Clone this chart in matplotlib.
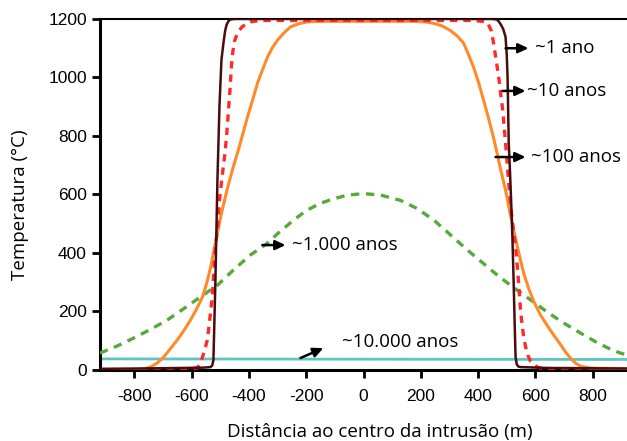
import matplotlib
matplotlib.use("Agg")
import matplotlib.pyplot as plt

plt.rcParams["axes.unicode_minus"] = False

# Curvas de temperatura (x em m, T em °C)
x_1ano = [-920, -800, -629, -560, -534, -528, -524, -517, -510, -503, -496, -489,
          -483, -478, -472, -465, -450, 450, 465, 472, 480, 488, 496, 500, 503,
          507, 511, 514, 517, 520, 524, 528, 531, 535, 540, 548, 643, 920]
t_1ano = [4, 5, 7, 8, 10, 16, 34, 308, 650, 900, 1060, 1118,
          1160, 1180, 1192, 1198, 1200, 1200, 1198, 1192, 1180, 1165, 1138, 1080, 1002,
          776, 690, 615, 537, 450, 308, 150, 44, 20, 12, 10, 7, 5]

x_10anos = [-920, -700, -580, -569, -557, -545, -536, -528, -517, -510, -503, -495,
            -485, -478, -472, -466, -461, -456, -450, -440, -425, -410, -395, -360,
            380, 415, 433, 446, 454, 463, 472, 479, 486, 496, 507, 514, 522, 531,
            538, 543, 548, 553, 559, 566, 574, 583, 595, 607, 630, 664, 920]
t_10anos = [-2, -2, 7, 24, 60, 103, 180, 250, 421, 480, 580, 650,
            730, 800, 880, 960, 1040, 1090, 1125, 1152, 1172, 1183, 1190, 1195,
            1195, 1192, 1188, 1160, 1118, 1060, 1002, 945, 889, 776, 640, 560, 490, 421,
            342, 280, 210, 160, 115, 79, 50, 30, 18, 10, 3, -2, -2]

x_100anos = [-920, -820, -779, -744, -720, -698, -675, -650, -627, -604, -583, -562,
             -548, -534, -522, -510, -495, -475, -456, -437, -420, -405, -388, -370,
             -352, -335, -318, -300, -278, -255, -225, -196, -150, 180, 215, 245, 275,
             304, 327, 349, 366, 384, 402, 419, 435, 450, 465, 479, 496, 510, 524,
             541, 559, 576, 594, 618, 643, 665, 688, 705, 723, 740, 758, 790, 817, 920]
t_100anos = [-2, -2, 0, 10, 24, 44, 72, 103, 135, 171, 208, 250,
             295, 350, 410, 470, 540, 622, 690, 752, 812, 865, 920, 981,
             1028, 1070, 1102, 1128, 1152, 1173, 1184, 1190, 1192, 1192, 1190, 1185, 1176,
             1160, 1142, 1118, 1080, 1036, 982, 923, 866, 810, 748, 684, 615, 545, 479,
             405, 332, 280, 235, 188, 150, 118, 87, 62, 40, 24, 13, 7, 6, 5]

x_1000anos = [-920, -860, -803, -745, -685, -627, -569, -510, -454, -395, -340,
              -290, -243, -200, -150, -105, -55, 0, 60, 129, 185, 245, 300, 363,
              409, 470, 524, 583, 643, 700, 758, 815, 873, 922]
t_1000anos = [58, 82, 109, 138, 171, 210, 250, 290, 342, 393, 430,
              475, 513, 545, 570, 585, 598, 603, 598, 580, 553, 513, 465, 410,
              372, 322, 282, 240, 197, 160, 126, 94, 66, 50]

x_10000anos = [-920, 0, 920]
t_10000anos = [38, 37, 36]

# Rótulos e setas (cauda, cabeça, posição do texto)
rotulos = ["~1 ano", "~10 anos", "~100 anos", "~1.000 anos", "~10.000 anos"]
seta_x0 = [496, 486, 461, -353, -220]
seta_x1 = [576, 566, 566, -272, -140]
seta_y0 = [1100, 954, 728, 427, 41]
seta_y1 = [1100, 954, 728, 427, 75]
texto_x = [600, 572, 586, -250, -75]
texto_y = [1100, 954, 728, 427, 96]

fig = plt.figure(figsize=(6.27, 4.41), dpi=100)
ax = fig.add_axes([0.1595, 0.161, 0.8405, 0.796])

ax.plot(x_10000anos, t_10000anos, color="#5cc6c4", lw=2, zorder=2)
ax.plot(x_1000anos, t_1000anos, color="#56a93a", lw=2.4, ls=(0, (2.5, 2)), zorder=3)
ax.plot(x_100anos, t_100anos, color="#ff8a2a", lw=2.2, zorder=3)
ax.plot(x_10anos, t_10anos, color="#ff2a2a", lw=2.4, ls=(0, (2.2, 1.8)), zorder=4)
ax.plot(x_1ano, t_1ano, color="#4a0c0c", lw=1.8, zorder=5)

for i in range(len(rotulos)):
    ax.annotate("", xy=(seta_x1[i], seta_y1[i]), xytext=(seta_x0[i], seta_y0[i]),
                arrowprops=dict(arrowstyle="-|>,head_length=0.6,head_width=0.28",
                                color="black", lw=1.8, shrinkA=0, shrinkB=0),
                zorder=6)
    ax.text(texto_x[i], texto_y[i], rotulos[i], fontsize=13.5, family="Open Sans",
            ha="left", va="center", zorder=6)

ax.set_xlim(-920, 920)
ax.set_ylim(0, 1200)
ax.set_xticks([-800, -600, -400, -200, 0, 200, 400, 600, 800])
ax.set_yticks([0, 200, 400, 600, 800, 1000, 1200])

for lab in ax.get_xticklabels() + ax.get_yticklabels():
    lab.set_family("Liberation Sans")
    lab.set_fontsize(12.5)

ax.tick_params(direction="out", length=5.5, width=2)
ax.tick_params(axis="x", pad=8)
ax.tick_params(axis="y", pad=4)
ax.spines["right"].set_visible(False)
ax.spines["left"].set_linewidth(2.2)
ax.spines["bottom"].set_linewidth(2.2)
ax.spines["top"].set_linewidth(1.5)

ax.set_xlabel("Distância ao centro da intrusão (m)", family="Open Sans", fontsize=13.5)
ax.set_ylabel("Temperatura (°C)", family="Open Sans", fontsize=13.5)
ax.xaxis.set_label_coords(0.531, -0.152)
ax.yaxis.set_label_coords(-0.134, 0.47)

fig.savefig("out.png", dpi=100)
